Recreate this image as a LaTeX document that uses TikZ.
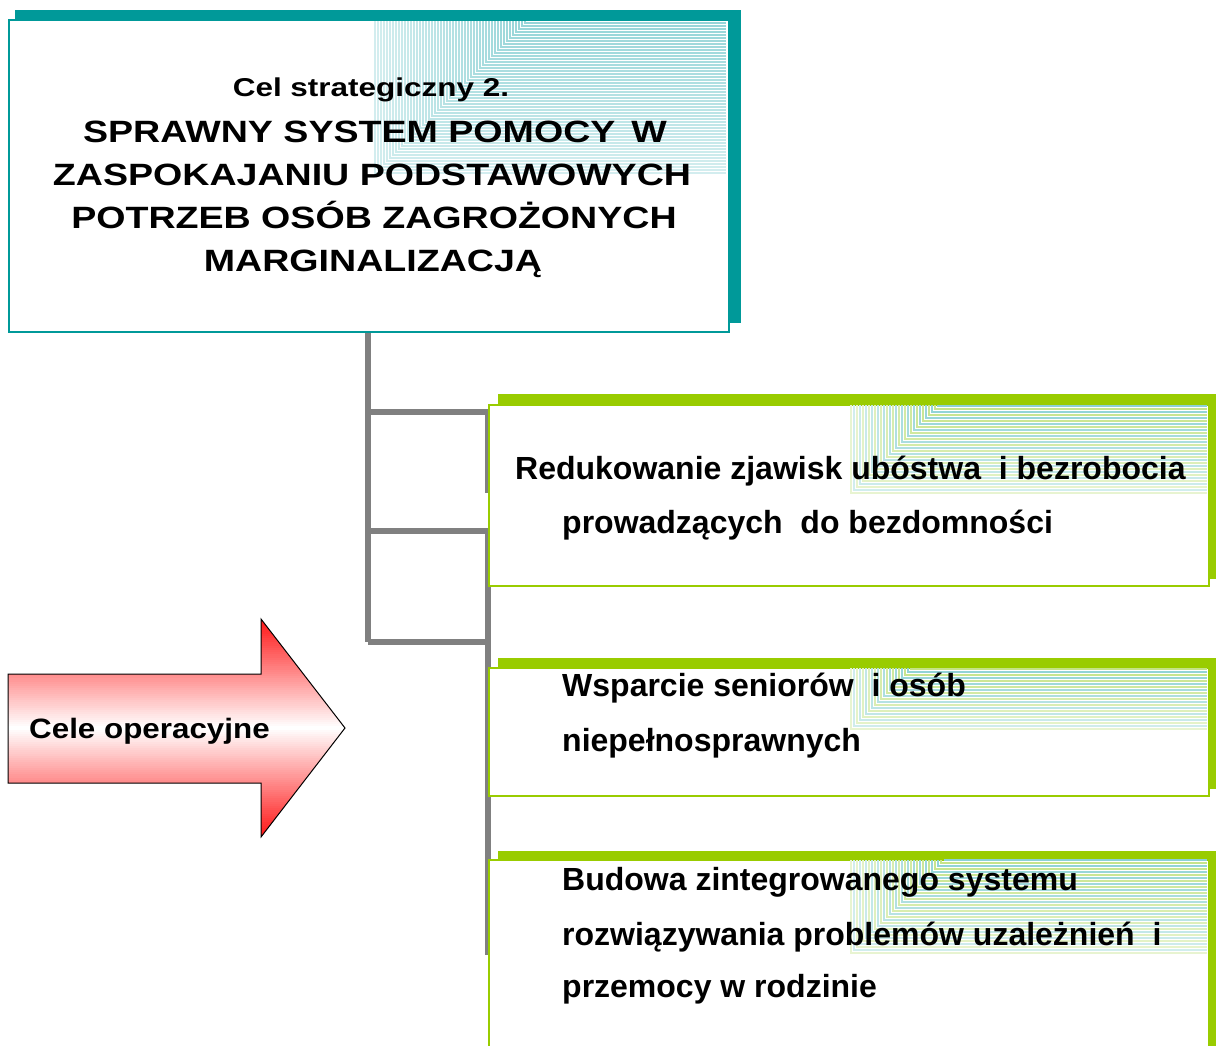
\documentclass[tikz,border=0pt]{standalone}
\usepackage{fontspec}
\setmainfont{Liberation Sans}
\newfontfamily\titlefont[FakeStretch=1.22]{Liberation Sans}
\newfontfamily\arrowfont[FakeStretch=1.12]{Liberation Sans}
\definecolor{tealc}{RGB}{0,153,153}
\definecolor{limec}{RGB}{153,204,0}
\definecolor{grayc}{RGB}{128,128,128}
\definecolor{stripeT}{RGB}{80,185,190}
\definecolor{stripeG}{RGB}{165,212,70}
\definecolor{arrowred}{RGB}{255,20,20}
\newcommand{\stripefill}[8]{%
  \pgfmathtruncatemacro{\nn}{(#4-#2)/3}%
  \foreach \k in {0,...,\nn}{%
    \pgfmathsetmacro{\yy}{#4-3*\k}%
    \pgfmathsetmacro{\xx}{#1+3*\k}%
    \pgfmathtruncatemacro{\pp}{#7+(#8-#7)*\k/\nn}%
    \pgfmathtruncatemacro{\odd}{mod(\k,2)}%
    \ifnum\odd=0 \def\cc{#5}\else\def\cc{#6}\fi
    \draw[line width=1.1pt,color=\cc!\pp!white] (\xx,#2) -- (\xx,\yy) -- (#3,\yy);
  }}
\tikzset{
  goalbox/.style={draw=tealc,line width=2pt,fill=white,anchor=north west,inner sep=0pt},
  opbox/.style={draw=limec,line width=1.5pt,fill=white,anchor=north west,inner sep=0pt,minimum width=720},
  tree/.style={draw=grayc,line width=5.5pt},
  titleA/.style={anchor=base,inner sep=0pt,font=\titlefont\bfseries\fontsize{25.8}{30}\selectfont},
  titleB/.style={anchor=base,inner sep=0pt,font=\titlefont\bfseries\fontsize{30.8}{36}\selectfont},
  optext/.style={anchor=base west,inner sep=0pt,font=\bfseries\fontsize{32}{38}\selectfont},
  arrowtext/.style={anchor=base west,inner sep=0pt,font=\arrowfont\bfseries\fontsize{28}{34}\selectfont}
}
\begin{document}
\begin{tikzpicture}[x=1pt,y=-1pt]
\useasboundingbox (0,0) rectangle (1216,1045);
\clip (0,0) rectangle (1216,1045);
\fill[white] (0,0) rectangle (1216,1045);

% connector tree (behind the boxes)
\coordinate (trunkTop) at (368,331);
\coordinate (b1) at (368,412);
\coordinate (b2) at (368,531);
\coordinate (b3) at (368,642);
\coordinate (e1) at (488,412);
\coordinate (e1d) at (488,493);
\coordinate (e2) at (488,531);
\coordinate (e3) at (488,955);
\draw[tree] (trunkTop) -- (b3);
\draw[tree] (b1) -- (e1) -- (e1d);
\draw[tree] (b2) -- (e2) -- (e3);
\draw[tree] (b3) -- (e3 |- b3);

% goal box
\fill[tealc] (15,10) rectangle (741,323);
\node[goalbox,minimum width=720,minimum height=312] (goal) at (8,19) {};
\stripefill{375}{21}{726}{173}{stripeT}{stripeT}{25}{60}

% operational boxes
\fill[limec] (498,394) rectangle (1216,579);
\node[opbox,minimum height=181] (op1) at (488,404) {};
\stripefill{851}{405}{1207}{493}{stripeG}{stripeT}{25}{65}

\fill[limec] (498,658) rectangle (1216,789);
\node[opbox,minimum height=128] (op2) at (488,667) {};
\stripefill{851}{668}{1207}{729}{stripeG}{stripeT}{25}{65}

\fill[limec] (498,851) rectangle (1216,1100);
\node[opbox,minimum height=260] (op3) at (488,859) {};
\stripefill{851}{860}{1207}{953}{stripeG}{stripeT}{25}{65}

% goal text
\node[titleA] (g0) at (371,96) {Cel strategiczny 2.};
\node[titleB] (g1) at (375,142.7) {SPRAWNY SYSTEM POMOCY\hspace{16pt}W};
\node[titleB] (g2) at (372,185.3) {ZASPOKAJANIU PODSTAWOWYCH};
\node[titleB] (g3) at (374,228.3) {POTRZEB OSÓB ZAGROŻONYCH};
\node[titleB] (g4) at (373,271.7) {MARGINALIZACJĄ};

% box texts
\node[optext] (o1a) at (515,479) {Redukowanie zjawisk ubóstwa~ i bezrobocia};
\node[optext] (o1b) at (562,533) {prowadzących~ do bezdomności};
\node[optext] (o2a) at (562,696) {Wsparcie seniorów~ i osób};
\node[optext] (o2b) at (562,751) {niepełnosprawnych};
\node[optext] (o3a) at (562,890) {Budowa zintegrowanego systemu};
\node[optext] (o3b) at (562,945) {rozwiązywania problemów uzależnień~ i};
\node[optext] (o3c) at (562,997) {przemocy w rodzinie};

% arrow
\begin{scope}
\clip (8,674) -- (261,674) -- (261,619) -- (345,728) -- (261,837) -- (261,783) -- (8,783) -- cycle;
\foreach \yy in {618,620,...,838}{%
  \pgfmathtruncatemacro{\pp}{min(100,abs(\yy+1-728)/109*100)}%
  \fill[arrowred!\pp!white] (8,\yy) rectangle (346,\yy+2.3);
}
\end{scope}
\draw[black,line width=1pt,line join=miter]
  (8,674) -- (261,674) -- (261,619) -- (345,728) -- (261,837) -- (261,783) -- (8,783) -- cycle;
\node[arrowtext] (arr) at (29,738) {Cele operacyjne};
\end{tikzpicture}
\end{document}
